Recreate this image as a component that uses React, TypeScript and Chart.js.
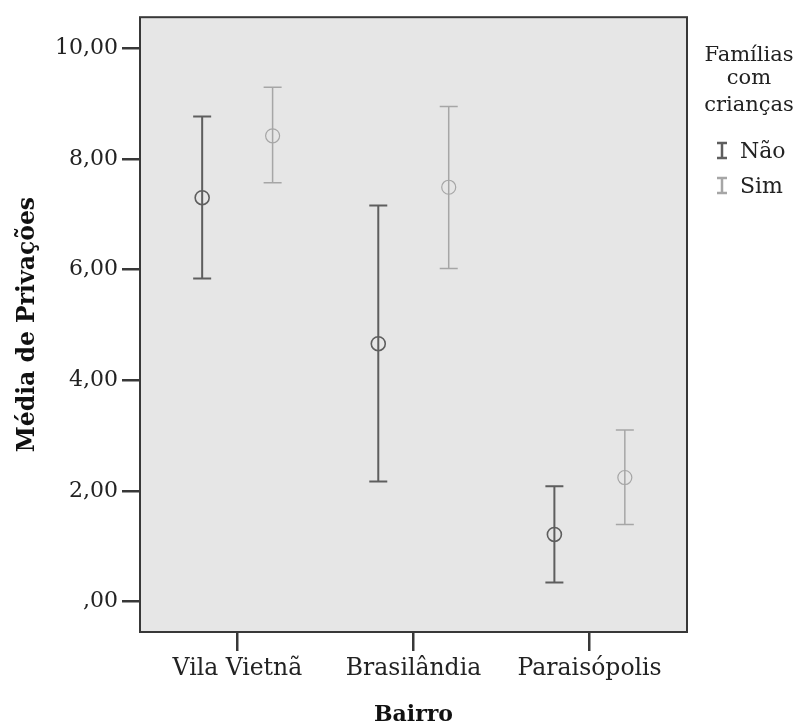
import React, { useEffect, useRef } from 'react';
import { Chart, registerables } from 'chart.js';

Chart.register(...registerables);

const categories = ['Vila Vietnã', 'Brasilândia', 'Paraisópolis'];
const groupLabels = ['Não', 'Sim'];
const naoMean = [7.3, 4.66, 1.21];
const naoLow = [5.84, 2.17, 0.34];
const naoHigh = [8.77, 7.16, 2.08];
const simMean = [8.42, 7.49, 2.24];
const simLow = [7.57, 6.02, 1.39];
const simHigh = [9.3, 8.95, 3.1];
const yTickValues = [0, 2, 4, 6, 8, 10];
const xTickValues = [0, 1, 2];
const legendTitle = ['Famílias', 'com', 'crianças'];
const yTitle = 'Média de Privações';
const xTitle = 'Bairro';

const FONT = "'DejaVu Serif', 'Liberation Serif', serif";
const NAO_COLOR = '#5e5e5e';
const SIM_COLOR = '#a6a6a6';

const fmt = (v: number) => {
  const s = v.toFixed(2).replace('.', ',');
  return v === 0 ? s.replace(/^0/, '') : s;
};

const series = [
  { label: groupLabels[0], mean: naoMean, low: naoLow, high: naoHigh, color: NAO_COLOR, width: 2, offset: -0.2 },
  { label: groupLabels[1], mean: simMean, low: simLow, high: simHigh, color: SIM_COLOR, width: 1.5, offset: 0.2 },
];

const bgPlugin = {
  id: 'plotBg',
  beforeDraw(chart: any) {
    const { ctx, chartArea: a } = chart;
    ctx.save();
    ctx.fillStyle = '#e6e6e6';
    ctx.fillRect(a.left, a.top, a.right - a.left, a.bottom - a.top);
    ctx.restore();
  },
  afterDraw(chart: any) {
    const { ctx, chartArea: a } = chart;
    ctx.save();
    ctx.strokeStyle = '#383838';
    ctx.lineWidth = 2;
    ctx.strokeRect(a.left, a.top, a.right - a.left, a.bottom - a.top);
    ctx.restore();
  },
};

const errorBarPlugin = {
  id: 'errorBars',
  beforeDatasetsDraw(chart: any) {
    const { ctx, scales } = chart;
    const x = scales.x;
    const y = scales.y;
    chart.data.datasets.forEach((ds: any) => {
      ctx.save();
      ctx.strokeStyle = ds.borderColor;
      ctx.lineWidth = ds.barWidth;
      const cap = 9;
      ds.data.forEach((p: any, i: number) => {
        const px = x.getPixelForValue(p.x);
        const yl = y.getPixelForValue(ds.low[i]);
        const yh = y.getPixelForValue(ds.high[i]);
        ctx.beginPath();
        ctx.moveTo(px, yl);
        ctx.lineTo(px, yh);
        ctx.moveTo(px - cap, yl);
        ctx.lineTo(px + cap, yl);
        ctx.moveTo(px - cap, yh);
        ctx.lineTo(px + cap, yh);
        ctx.stroke();
      });
      ctx.restore();
    });
  },
};

const legendPlugin = {
  id: 'customLegend',
  afterDraw(chart: any) {
    const { ctx } = chart;
    ctx.save();
    ctx.font = `21px ${FONT}`;
    ctx.fillStyle = '#222';
    ctx.textAlign = 'center';
    ctx.textBaseline = 'alphabetic';
    const cx = 749;
    const baselines = [61, 84, 111];
    legendTitle.forEach((t, i) => ctx.fillText(t, cx, baselines[i]));
    const itemBase = [158, 193];
    series.forEach((s, i) => {
      const b = itemBase[i];
      const ix = 722;
      ctx.strokeStyle = s.color;
      ctx.lineWidth = 2.5;
      ctx.beginPath();
      ctx.moveTo(ix, b - 15);
      ctx.lineTo(ix, b);
      ctx.moveTo(ix - 5, b - 15);
      ctx.lineTo(ix + 5, b - 15);
      ctx.moveTo(ix - 5, b);
      ctx.lineTo(ix + 5, b);
      ctx.stroke();
      ctx.textAlign = 'left';
      ctx.fillStyle = '#222';
      ctx.font = `22px ${FONT}`;
      ctx.fillText(s.label, 740, b);
    });
    ctx.restore();
  },
};

export default function App() {
  const ref = useRef<HTMLCanvasElement | null>(null);

  useEffect(() => {
    if (!ref.current) return;
    const chart = new Chart(ref.current, {
      type: 'scatter',
      data: {
        datasets: series.map((s) => ({
          label: s.label,
          data: s.mean.map((m, i) => ({ x: i + s.offset, y: m })),
          low: s.low,
          high: s.high,
          barWidth: s.width,
          borderColor: s.color,
          backgroundColor: 'rgba(0,0,0,0)',
          pointStyle: 'circle',
          pointRadius: 7,
          pointBorderWidth: s.width * 0.8,
          pointHoverRadius: 7,
        })) as any,
      },
      options: {
        animation: false,
        responsive: false,
        events: [],
        layout: { padding: { top: 16, right: 113, left: 0, bottom: 0 } },
        plugins: { legend: { display: false }, tooltip: { enabled: false } },
        scales: {
          x: {
            type: 'linear',
            min: -0.553,
            max: 2.553,
            afterBuildTicks: (scale: any) => {
              scale.ticks = xTickValues.map((v) => ({ value: v }));
            },
            afterFit: (scale: any) => {
              scale.height = 95;
            },
            ticks: {
              autoSkip: false,
              maxRotation: 0,
              padding: 4,
              color: '#222',
              font: { family: FONT, size: 23.5 },
              callback: (v: any) => categories[Number(v)] ?? '',
            },
            grid: { drawOnChartArea: false, tickLength: 19, color: '#383838', lineWidth: 2.5 },
            border: { display: false },
            title: {
              display: true,
              text: xTitle,
              color: '#111',
              font: { family: FONT, size: 22, weight: 'bold', lineHeight: 1 },
              padding: { top: 0, bottom: 1 },
            },
          },
          y: {
            type: 'linear',
            min: -0.554,
            max: 10.565,
            afterBuildTicks: (scale: any) => {
              scale.ticks = yTickValues.map((v) => ({ value: v }));
            },
            afterFit: (scale: any) => {
              scale.width = 140;
            },
            ticks: {
              padding: 4,
              color: '#222',
              font: { family: FONT, size: 22 },
              callback: (v: any) => fmt(Number(v)),
            },
            grid: { drawOnChartArea: false, tickLength: 18, color: '#383838', lineWidth: 2.5 },
            border: { display: false },
            title: {
              display: true,
              text: yTitle,
              color: '#111',
              font: { family: FONT, size: 23.5, weight: 'bold', lineHeight: 1 },
              padding: { top: 16, bottom: 0 },
            },
          },
        },
      },
      plugins: [bgPlugin, errorBarPlugin, legendPlugin],
    } as any);
    return () => chart.destroy();
  }, []);

  return (
    <div style={{ position: 'absolute', left: 0, top: 0, width: 800, height: 727, background: '#fff' }}>
      <canvas ref={ref} width={800} height={727} />
    </div>
  );
}
